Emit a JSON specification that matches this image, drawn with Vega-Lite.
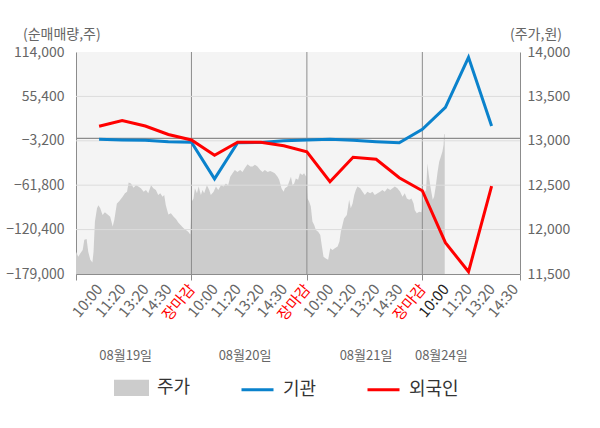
{
  "$schema": "https://vega.github.io/schema/vega-lite/v6.json",
  "width": 444,
  "height": 222,
  "autosize": {"type": "none"},
  "padding": {"left": 76, "top": 52, "right": 80, "bottom": 154},
  "background": "#ffffff",
  "config": {
    "font": "Noto Sans CJK KR",
    "view": {"fill": "#f4f4f4", "stroke": null},
    "axis": {"labelFont": "Noto Sans CJK KR", "titleFont": "Noto Sans CJK KR", "domainColor": "#8c8c8c", "labelColor": "#666666", "titleColor": "#666666", "titleFontWeight": "normal"},
    "legend": {"labelFont": "Noto Sans CJK KR"}
  },
  "datasets": {
    "price": [
      {"t":0,"p":11750},{"t":0.10,"p":11695},{"t":0.19,"p":11735},{"t":0.29,"p":11770},{"t":0.36,"p":11885},{"t":0.46,"p":11895},{"t":0.53,"p":11750},{"t":0.62,"p":11660},{"t":0.71,"p":11630},{"t":0.76,"p":11750},{"t":0.82,"p":12090},{"t":0.91,"p":12240},{"t":0.97,"p":12275},{"t":1.05,"p":12240},{"t":1.15,"p":12165},{"t":1.25,"p":12195},{"t":1.37,"p":12170},{"t":1.48,"p":12145},{"t":1.59,"p":12035},{"t":1.66,"p":12110},{"t":1.77,"p":12295},{"t":1.87,"p":12320},{"t":2.02,"p":12370},{"t":2.12,"p":12410},{"t":2.21,"p":12425},{"t":2.28,"p":12530},{"t":2.38,"p":12520},{"t":2.49,"p":12470},{"t":2.60,"p":12500},{"t":2.70,"p":12485},{"t":2.81,"p":12465},{"t":2.93,"p":12425},{"t":3.03,"p":12445},{"t":3.13,"p":12410},{"t":3.25,"p":12500},{"t":3.35,"p":12465},{"t":3.46,"p":12445},{"t":3.56,"p":12390},{"t":3.65,"p":12410},{"t":3.75,"p":12370},{"t":3.82,"p":12390},{"t":3.89,"p":12275},{"t":4.00,"p":12170},{"t":4.11,"p":12185},{"t":4.23,"p":12145},{"t":4.33,"p":12120},{"t":4.43,"p":12080},{"t":4.54,"p":12050},{"t":4.66,"p":12015},{"t":4.76,"p":11995},{"t":4.86,"p":11975},{"t":4.95,"p":11945},
      {"t":5.01,"p":12315},{"t":5.09,"p":12350},{"t":5.15,"p":12465},{"t":5.24,"p":12410},{"t":5.31,"p":12485},{"t":5.41,"p":12390},{"t":5.48,"p":12445},{"t":5.55,"p":12410},{"t":5.67,"p":12500},{"t":5.77,"p":12445},{"t":5.84,"p":12390},{"t":5.96,"p":12425},{"t":6.06,"p":12485},{"t":6.16,"p":12445},{"t":6.28,"p":12500},{"t":6.39,"p":12485},{"t":6.49,"p":12520},{"t":6.59,"p":12500},{"t":6.68,"p":12595},{"t":6.78,"p":12635},{"t":6.88,"p":12670},{"t":6.99,"p":12650},{"t":7.11,"p":12670},{"t":7.21,"p":12650},{"t":7.31,"p":12690},{"t":7.43,"p":12735},{"t":7.55,"p":12710},{"t":7.65,"p":12710},{"t":7.75,"p":12730},{"t":7.86,"p":12710},{"t":7.98,"p":12670},{"t":8.08,"p":12650},{"t":8.18,"p":12670},{"t":8.30,"p":12650},{"t":8.41,"p":12660},{"t":8.51,"p":12650},{"t":8.61,"p":12635},{"t":8.73,"p":12595},{"t":8.80,"p":12560},{"t":8.90,"p":12465},{"t":8.99,"p":12425},{"t":9.05,"p":12465},{"t":9.16,"p":12485},{"t":9.23,"p":12540},{"t":9.31,"p":12595},{"t":9.38,"p":12500},{"t":9.45,"p":12520},{"t":9.52,"p":12575},{"t":9.62,"p":12560},{"t":9.70,"p":12635},{"t":9.80,"p":12615},{"t":9.88,"p":12635},{"t":9.97,"p":12595},
      {"t":10.03,"p":12350},{"t":10.10,"p":12315},{"t":10.17,"p":12260},{"t":10.24,"p":12090},{"t":10.32,"p":12050},{"t":10.39,"p":11995},{"t":10.49,"p":11975},{"t":10.58,"p":11940},{"t":10.63,"p":11845},{"t":10.72,"p":11695},{"t":10.82,"p":11675},{"t":10.92,"p":11660},{"t":11.01,"p":11790},{"t":11.11,"p":11770},{"t":11.21,"p":11790},{"t":11.33,"p":11810},{"t":11.41,"p":11865},{"t":11.47,"p":11975},{"t":11.54,"p":12050},{"t":11.61,"p":12125},{"t":11.73,"p":12165},{"t":11.83,"p":12335},{"t":11.90,"p":12240},{"t":11.98,"p":12295},{"t":12.05,"p":12390},{"t":12.12,"p":12445},{"t":12.19,"p":12485},{"t":12.31,"p":12465},{"t":12.41,"p":12425},{"t":12.51,"p":12390},{"t":12.62,"p":12425},{"t":12.74,"p":12410},{"t":12.84,"p":12425},{"t":12.94,"p":12390},{"t":13.06,"p":12410},{"t":13.17,"p":12425},{"t":13.27,"p":12445},{"t":13.37,"p":12425},{"t":13.49,"p":12465},{"t":13.61,"p":12445},{"t":13.71,"p":12465},{"t":13.81,"p":12485},{"t":13.92,"p":12465},{"t":14.04,"p":12425},{"t":14.14,"p":12370},{"t":14.24,"p":12410},{"t":14.33,"p":12350},{"t":14.43,"p":12335},{"t":14.53,"p":12350},{"t":14.62,"p":12295},{"t":14.67,"p":12220},{"t":14.76,"p":12185},{"t":14.86,"p":12200},{"t":14.96,"p":12195},
      {"t":15.05,"p":12335},{"t":15.11,"p":12445},{"t":15.16,"p":12425},{"t":15.22,"p":12745},{"t":15.28,"p":12615},{"t":15.34,"p":12500},{"t":15.40,"p":12410},{"t":15.45,"p":12335},{"t":15.51,"p":12370},{"t":15.58,"p":12485},{"t":15.66,"p":12650},{"t":15.73,"p":12765},{"t":15.80,"p":12820},{"t":15.87,"p":12880},{"t":15.92,"p":12955},{"t":15.94,"p":13075},{"t":15.97,"p":13075}
    ],
    "flow": [
      {"t":1,"s":"기관","v":-1200},{"t":2,"s":"기관","v":-2100},{"t":3,"s":"기관","v":-2500},{"t":4,"s":"기관","v":-4400},{"t":5,"s":"기관","v":-5200},{"t":6,"s":"기관","v":-53400},{"t":7,"s":"기관","v":-5700},{"t":8,"s":"기관","v":-5400},{"t":9,"s":"기관","v":-3100},{"t":10,"s":"기관","v":-2100},{"t":11,"s":"기관","v":-1200},{"t":12,"s":"기관","v":-2500},{"t":13,"s":"기관","v":-4400},{"t":14,"s":"기관","v":-5700},{"t":15,"s":"기관","v":12000},{"t":16,"s":"기관","v":41000},{"t":17,"s":"기관","v":107000},{"t":18,"s":"기관","v":16300},
      {"t":1,"s":"외국인","v":16000},{"t":2,"s":"외국인","v":23600},{"t":3,"s":"외국인","v":16300},{"t":4,"s":"외국인","v":5100},{"t":5,"s":"외국인","v":-2100},{"t":6,"s":"외국인","v":-22300},{"t":7,"s":"외국인","v":-5200},{"t":8,"s":"외국인","v":-5200},{"t":9,"s":"외국인","v":-9700},{"t":10,"s":"외국인","v":-17600},{"t":11,"s":"외국인","v":-57200},{"t":12,"s":"외국인","v":-25000},{"t":13,"s":"외국인","v":-27600},{"t":14,"s":"외국인","v":-52000},{"t":15,"s":"외국인","v":-69100},{"t":16,"s":"외국인","v":-137700},{"t":17,"s":"외국인","v":-176000},{"t":18,"s":"외국인","v":-62900}
    ],
    "sep": [{"t":5},{"t":10},{"t":15}],
    "zero": [{"v":0}],
    "grid": [{"v":55400},{"v":-3200},{"v":-61800},{"v":-120400}]
  },
  "layer": [
    {
      "data": {"name": "price"},
      "mark": {"type": "area"},
      "encoding": {
        "x": {"field": "t", "type": "quantitative", "scale": {"domain": [0, 19.23], "nice": false, "zero": false},
          "axis": {
            "orient": "bottom",
            "values": [0,1,2,3,4,5,6,7,8,9,10,11,12,13,14,15,16,17,18,19,19.23],
            "labelExpr": "(datum.value == 0 || datum.value > 19.1) ? '' : (datum.value % 5 == 0 ? '장마감' : ['', '10:00', '11:20', '13:20', '14:30'][datum.value % 5])",
            "labelAngle": -50, "labelAlign": "right", "labelBaseline": "middle",
            "labelFontSize": 15, "labelPadding": 6, "labelOverlap": false, "labelFlush": false, "labelBound": false,
            "labelColor": {"condition": [{"test": "datum.value == 5 || datum.value == 10 || datum.value == 15", "value": "#ff0000"}, {"test": "datum.value == 16", "value": "#222222"}], "value": "#666666"},
            "tickSize": 6, "tickColor": "#8c8c8c",
            "tickOpacity": {"condition": {"test": "datum.value == 0 || datum.value == 5 || datum.value == 10 || datum.value == 15 || datum.value > 19.1", "value": 1}, "value": 0},
            "grid": false, "domainColor": "#8c8c8c", "title": null
          }
        },
        "y": {"field": "p", "type": "quantitative", "scale": {"domain": [11500, 14000], "nice": false, "zero": false},
          "axis": {
            "orient": "right", "values": [11500, 12000, 12500, 13000, 13500, 14000], "format": ",.0f",
            "grid": false, "ticks": false, "labelPadding": 7, "labelFontSize": 14, "labelColor": "#666666",
            "domainColor": "#8c8c8c", "title": "(주가,원)", "titleAngle": 0, "titleX": 15.5, "titleY": -18,
            "titleAlign": "center", "titleBaseline": "middle", "titleFontSize": 14, "titleColor": "#666666", "titleFontWeight": "normal"
          }
        },
        "y2": {"datum": 11500},
        "color": {"datum": "주가", "type": "nominal",
          "scale": {"domain": ["주가", "기관", "외국인"], "range": ["#cccccc", "#0a82cc", "#ff0000"]},
          "legend": {
            "orient": "none", "legendX": 38, "legendY": 318, "direction": "horizontal", "title": null,
            "labelFontSize": 18, "labelColor": "#333333", "labelOffset": 8, "columnPadding": 44, "padding": 0,
            "symbolSize": 1024, "symbolStrokeWidth": 3,
            "encode": {"symbols": {"update": {
              "shape": {"signal": "datum.value === '주가' ? 'M-1,-0.42L1,-0.42L1,0.42L-1,0.42Z' : 'stroke'"},
              "fill": {"signal": "datum.value === '주가' ? '#cccccc' : 'transparent'"},
              "stroke": {"signal": "datum.value === '주가' ? 'transparent' : (datum.value === '기관' ? '#0a82cc' : '#ff0000')"},
              "strokeWidth": {"value": 3}
            }}}
          }
        }
      }
    },
    {
      "data": {"name": "sep"},
      "mark": {"type": "rule", "color": "#8c8c8c", "strokeWidth": 1},
      "encoding": {
        "x": {"field": "t", "type": "quantitative", "scale": {"domain": [0, 19.23], "nice": false, "zero": false},
          "axis": {
            "orient": "bottom", "values": [2.13, 7.3, 12.54, 15.8],
            "labelExpr": "datum.value < 5 ? '08월19일' : (datum.value < 10 ? '08월20일' : (datum.value < 15 ? '08월21일' : '08월24일'))",
            "labelAngle": 0, "labelAlign": "center", "labelBaseline": "middle", "labelFontSize": 13, "labelColor": "#666666",
            "labelPadding": 0, "ticks": false, "tickSize": 0, "domain": false, "grid": false, "offset": 81, "title": null,
            "labelOverlap": false, "labelFlush": false, "labelBound": false
          }
        }
      }
    },
    {
      "layer": [
        {
          "data": {"name": "grid"},
          "mark": {"type": "rule", "color": "#dcdcdc", "strokeWidth": 1},
          "encoding": {
            "y": {"field": "v", "type": "quantitative", "scale": {"domain": [-179000, 114000], "nice": false, "zero": false},
              "axis": {
                "orient": "left", "values": [-179000, -120400, -61800, -3200, 55400, 114000], "format": ",.0f",
                "grid": false, "ticks": false, "labelPadding": 12, "labelFontSize": 14, "labelColor": "#666666",
                "domainColor": "#8c8c8c", "title": "(순매매량,주)", "titleAngle": 0, "titleX": -14.7, "titleY": -18,
                "titleAlign": "center", "titleBaseline": "middle", "titleFontSize": 14, "titleColor": "#666666", "titleFontWeight": "normal"
              }
            }
          }
        },
        {
          "data": {"name": "zero"},
          "mark": {"type": "rule", "color": "#8c8c8c", "strokeWidth": 1.2},
          "encoding": {
            "y": {"field": "v", "type": "quantitative", "scale": {"domain": [-179000, 114000], "nice": false, "zero": false},
              "axis": {
                "orient": "left", "values": [-179000, -120400, -61800, -3200, 55400, 114000], "format": ",.0f",
                "grid": false, "ticks": false, "labelPadding": 12, "labelFontSize": 14, "labelColor": "#666666",
                "domainColor": "#8c8c8c", "title": "(순매매량,주)", "titleAngle": 0, "titleX": -14.7, "titleY": -18,
                "titleAlign": "center", "titleBaseline": "middle", "titleFontSize": 14, "titleColor": "#666666", "titleFontWeight": "normal"
              }
            }
          }
        },
        {
          "data": {"name": "flow"},
          "mark": {"type": "line", "strokeWidth": 3},
          "encoding": {
            "x": {"field": "t", "type": "quantitative", "scale": {"domain": [0, 19.23], "nice": false, "zero": false}, "axis": null},
            "y": {"field": "v", "type": "quantitative", "scale": {"domain": [-179000, 114000], "nice": false, "zero": false},
              "axis": {
                "orient": "left", "values": [-179000, -120400, -61800, -3200, 55400, 114000], "format": ",.0f",
                "grid": false, "ticks": false, "labelPadding": 12, "labelFontSize": 14, "labelColor": "#666666",
                "domainColor": "#8c8c8c", "title": "(순매매량,주)", "titleAngle": 0, "titleX": -14.7, "titleY": -18,
                "titleAlign": "center", "titleBaseline": "middle", "titleFontSize": 14, "titleColor": "#666666", "titleFontWeight": "normal"
              }
            },
            "color": {"field": "s", "type": "nominal",
              "scale": {"domain": ["주가", "기관", "외국인"], "range": ["#cccccc", "#0a82cc", "#ff0000"]},
              "legend": {
                "orient": "none", "legendX": 38, "legendY": 318, "direction": "horizontal", "title": null,
                "labelFontSize": 18, "labelColor": "#333333", "labelOffset": 8, "columnPadding": 44, "padding": 0,
                "symbolSize": 1024, "symbolStrokeWidth": 3,
                "encode": {"symbols": {"update": {
                  "shape": {"signal": "datum.value === '주가' ? 'M-1,-0.42L1,-0.42L1,0.42L-1,0.42Z' : 'stroke'"},
                  "fill": {"signal": "datum.value === '주가' ? '#cccccc' : 'transparent'"},
                  "stroke": {"signal": "datum.value === '주가' ? 'transparent' : (datum.value === '기관' ? '#0a82cc' : '#ff0000')"},
                  "strokeWidth": {"value": 3}
                }}}
              }
            }
          }
        }
      ]
    }
  ],
  "resolve": {"scale": {"y": "independent"}, "axis": {"x": "independent", "y": "independent"}}
}
